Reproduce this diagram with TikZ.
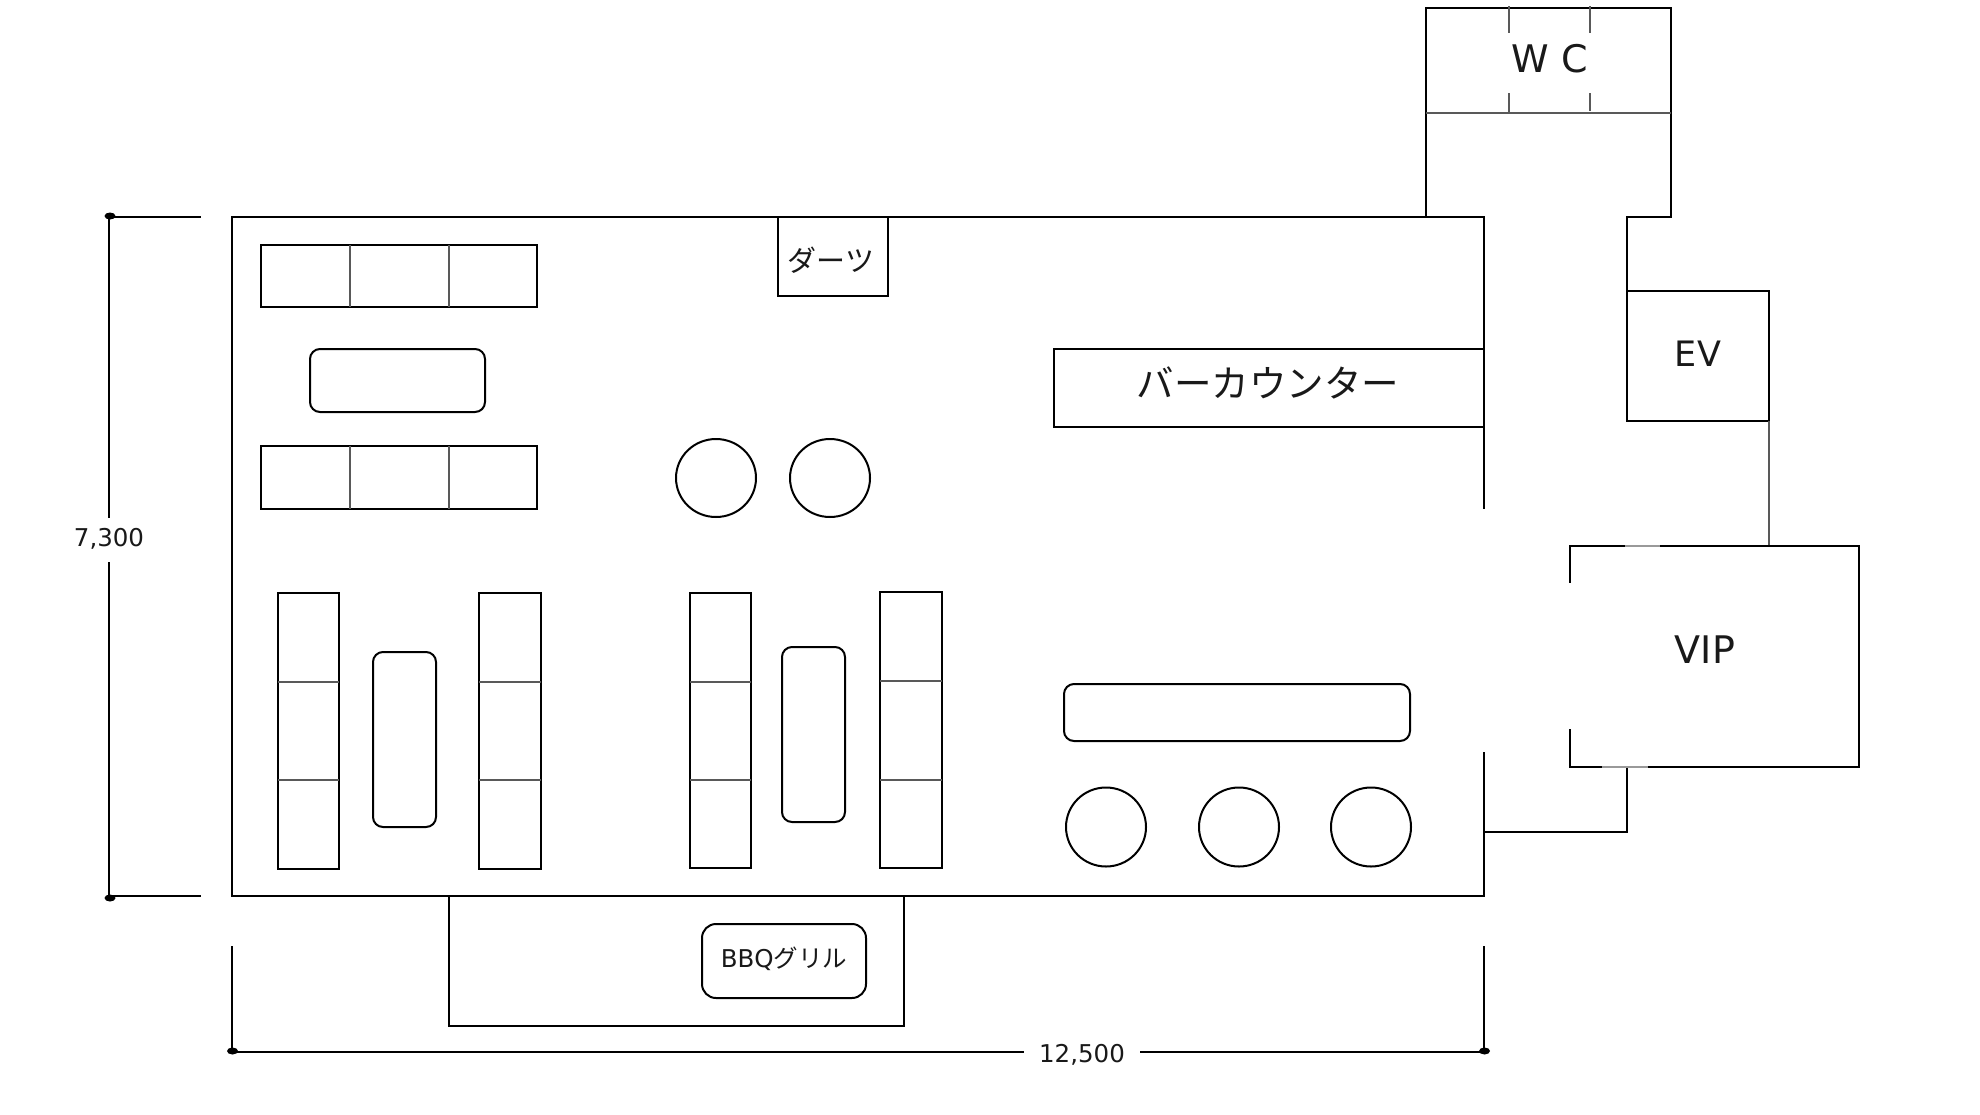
\documentclass[tikz,border=0pt]{standalone}
\usepackage{fontspec}
\setmainfont{DejaVu Sans}
\newfontfamily\cjk{Noto Sans CJK JP}
\tikzset{x=1pt,y=-1pt,
 wall/.style={draw=black,line width=2.1pt,line cap=rect},
 box/.style={draw=black,line width=2pt,fill=none},
 div/.style={draw=black!65,line width=1.4pt},
 faint/.style={draw=black!40,line width=1.6pt},
 lab/.style={inner sep=0pt,text=black!90},
 dot/.style={fill=black,draw=none}}
\begin{document}
\begin{tikzpicture}
\useasboundingbox[fill=white] (0,0) rectangle (1980,1114);
% main walls
\draw[wall] (200,217)--(109,217) (109,217)--(109,517) (109,563)--(109,896) (109,896)--(200,896);
\draw[wall] (232,947)--(232,1052)--(1023,1052) (1141,1052)--(1484,1052)--(1484,947);
\draw[wall] (232,896)--(232,217)--(1484,217)--(1484,508) (1484,753)--(1484,896)--(232,896);
\draw[wall] (1426,217)--(1426,8)--(1671,8)--(1671,217)--(1627,217)--(1627,291);
\draw[wall] (1484,832)--(1627,832)--(1627,767);
\draw[wall] (449,896)--(449,1026)--(904,1026)--(904,896);
\filldraw[dot] (110,216) ellipse (5.5 and 3.5) (110,898) ellipse (5.5 and 3.5) (232.5,1051) ellipse (5.5 and 3.5) (1484.5,1051) ellipse (5.5 and 3.5);
% WC
\draw[div] (1426,113)--(1671,113) (1509,6)--(1509,33) (1590,6)--(1590,33) (1509,93)--(1509,113) (1590,93)--(1590,111);
\node[lab,font=\fontsize{38}{38}\selectfont] (wc) at (1550,59) {W C};
% EV
\draw[box] (1627,291) rectangle (1769,421);
\node[lab,font=\fontsize{35}{35}\selectfont] (ev) at (1698,354) {EV};
\draw[div] (1769,421)--(1769,546);
% VIP
\draw[wall] (1570,582)--(1570,546)--(1859,546)--(1859,767)--(1570,767)--(1570,730);
\draw[faint] (1625,546)--(1660,546) (1602,767)--(1648,767);
\node[lab,font=\fontsize{38}{38}\selectfont] (vip) at (1705,650) {VIP};
% top-left sofas and table
\draw[box] (261,245) rectangle (537,307);
\draw[div] (350,245)--(350,307) (449,245)--(449,307);
\draw[box,rounded corners=10] (310,349) rectangle (485,412);
\draw[box] (261,446) rectangle (537,509);
\draw[div] (350,446)--(350,509) (449,446)--(449,509);
% darts
\draw[box] (778,217) rectangle (888,296);
\node[lab,font=\cjk\fontsize{29}{29}\selectfont] (darts) at (831,260) {ダーツ};
% bar
\draw[box] (1054,349) rectangle (1484,427);
\node[lab,font=\cjk\fontsize{37.5}{38}\selectfont] (bar) at (1268,383) {バーカウンター};
% stools
\draw[box] (716,478) ellipse (40 and 39);
\draw[box] (830,478) ellipse (40 and 39);
% vertical sofas
\draw[box] (278,593) rectangle (339,869);
\draw[div] (278,682)--(339,682) (278,780)--(339,780);
\draw[box,rounded corners=10] (373,652) rectangle (436,827);
\draw[box] (479,593) rectangle (541,869);
\draw[div] (479,682)--(541,682) (479,780)--(541,780);
\draw[box] (690,593) rectangle (751,868);
\draw[div] (690,682)--(751,682) (690,780)--(751,780);
\draw[box,rounded corners=10] (782,647) rectangle (845,822);
\draw[box] (880,592) rectangle (942,868);
\draw[div] (880,681)--(942,681) (880,780)--(942,780);
% lower right
\draw[box,rounded corners=10] (1064,684) rectangle (1410,741);
\draw[box] (1106,827) ellipse (40 and 39.5);
\draw[box] (1239,827) ellipse (40 and 39.5);
\draw[box] (1371,827) ellipse (40 and 39.5);
% grill
\draw[box,rounded corners=14] (702,924) rectangle (866,998);
\node[lab,font=\fontsize{24.5}{25}\selectfont] (bbq) at (784,959) {BBQ{\cjk グリル}};
% dimensions
\node[lab,font=\fontsize{24.5}{25}\selectfont] (h) at (109,539) {7,300};
\node[lab,font=\fontsize{24.5}{25}\selectfont] (w) at (1082,1055) {12,500};
\end{tikzpicture}
\end{document}
